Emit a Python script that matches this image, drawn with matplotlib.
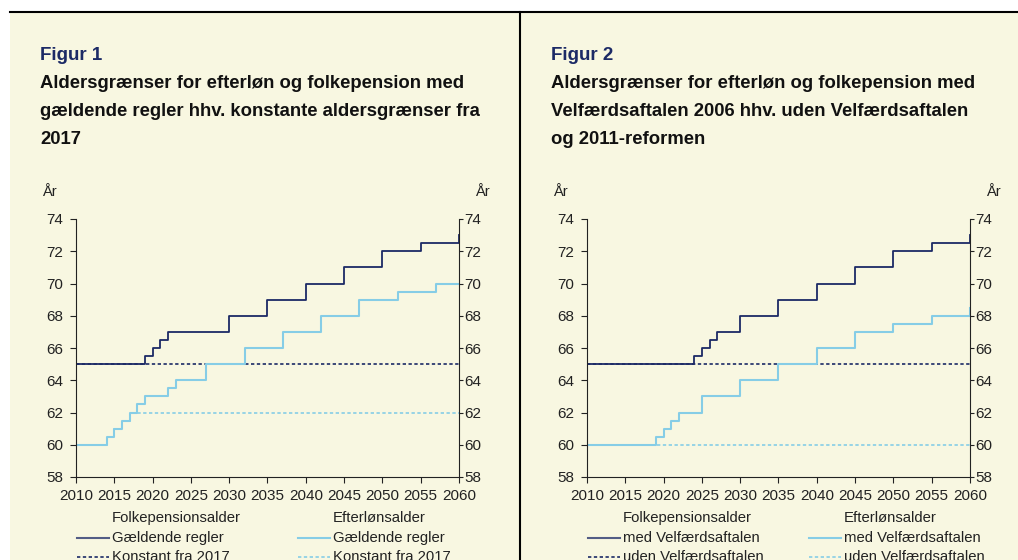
import matplotlib
matplotlib.use("Agg")
import matplotlib.pyplot as plt
from matplotlib.lines import Line2D
from matplotlib.patches import Rectangle

plt.rcParams['font.family'] = ['Liberation Sans', 'DejaVu Sans']

years = list(range(2010, 2061))

# Figur 1
folk_gaeldende = ([65] * 9 + [65.5, 66, 66.5] + [67] * 8 + [68] * 5 + [69] * 5
                  + [70] * 5 + [71] * 5 + [72] * 5 + [72.5] * 5 + [73])
folk_konstant = [65] * 51
efter_gaeldende = ([60] * 4 + [60.5, 61, 61.5, 62, 62.5] + [63] * 3 + [63.5]
                   + [64] * 4 + [65] * 5 + [66] * 5 + [67] * 5 + [68] * 5
                   + [69] * 5 + [69.5] * 5 + [70] * 4)
efter_konstant = [60] * 4 + [60.5, 61, 61.5, 62] + [62] * 43

# Figur 2
folk_med = ([65] * 14 + [65.5, 66, 66.5] + [67] * 3 + [68] * 5 + [69] * 5
            + [70] * 5 + [71] * 5 + [72] * 5 + [72.5] * 5 + [73])
folk_uden = [65] * 51
efter_med = ([60] * 9 + [60.5, 61, 61.5] + [62] * 3 + [63] * 5 + [64] * 5
             + [65] * 5 + [66] * 5 + [67] * 5 + [67.5] * 5 + [68] * 5 + [68.5])
efter_uden = [60] * 51

year_ticks = list(range(2010, 2061, 5))
age_ticks = list(range(58, 75, 2))

titles = [
    ["Aldersgrænser for efterløn og folkepension med",
     "gældende regler hhv. konstante aldersgrænser fra",
     "2017"],
    ["Aldersgrænser for efterløn og folkepension med",
     "Velfærdsaftalen 2006 hhv. uden Velfærdsaftalen",
     "og 2011-reformen"],
]
labels = [["Gældende regler", "Konstant fra 2017"],
          ["med Velfærdsaftalen", "uden Velfærdsaftalen"]]

dark = '#1c2a66'
light = '#86cde6'
bg = '#f8f7e1'
W, H = 1018, 560

fig = plt.figure(figsize=(W / 100, H / 100), dpi=100, facecolor='white')
fig.add_artist(Rectangle((10 / W, 0), 1, 1 - 13 / H, transform=fig.transFigure,
                         facecolor=bg, edgecolor='none', zorder=-10))
fig.add_artist(Line2D([10 / W, 1], [1 - 12 / H] * 2, transform=fig.transFigure,
                      color='black', lw=1.5))
fig.add_artist(Line2D([520 / W] * 2, [0, 1 - 12 / H], transform=fig.transFigure,
                      color='black', lw=1.5))


def fx(px):
    return px / W


def fy(py):
    return 1 - py / H


def panel(x0, num, title, lab, fs, fk, es, ek):
    ax = fig.add_axes([fx(x0 + 66), fy(477), fx(383), (477 - 219) / H])
    ax.set_facecolor('none')
    ax.plot(years, ek, color=light, lw=1.2, dashes=(2, 1.5), drawstyle='steps-post')
    ax.plot(years, fk, color=dark, lw=1.2, dashes=(2, 1.5), drawstyle='steps-post')
    ax.plot(years, es, color=light, lw=1.5, drawstyle='steps-post')
    ax.plot(years, fs, color=dark, lw=1.3, drawstyle='steps-post')
    ax.set_xlim(2010, 2060)
    ax.set_ylim(58, 74)
    ax.set_xticks(year_ticks)
    ax.set_yticks(age_ticks)
    for s in ['top', 'right']:
        ax.spines[s].set_visible(False)
    for s in ['left', 'bottom']:
        ax.spines[s].set_color('#222222')
    ax.tick_params(axis='both', labelsize=11, colors='#222222', length=4)
    ax.tick_params(axis='y', pad=5)
    ax.tick_params(axis='x', pad=5)
    ax2 = ax.twinx()
    ax2.set_ylim(58, 74)
    ax2.set_yticks(age_ticks)
    for s in ['top', 'left', 'bottom']:
        ax2.spines[s].set_visible(False)
    ax2.spines['right'].set_color('#222222')
    ax2.tick_params(axis='y', labelsize=11, colors='#222222', length=3, pad=1)

    fig.text(fx(x0 + 30), fy(55), "Figur %d" % num, fontsize=13.5, fontweight='bold',
             color='#1c2a66', va='center')
    for i, line in enumerate(title):
        fig.text(fx(x0 + 30), fy(84 + 28 * i), line, fontsize=13.3, fontweight='bold',
                 color='#111111', va='center')
    fig.text(fx(x0 + 32), fy(192), "År", fontsize=10.5, color='#222222', va='center')
    fig.text(fx(x0 + 465), fy(192), "År", fontsize=10.5, color='#222222', va='center')

    # legend
    for col, (cx, head, c) in enumerate([(x0 + 102, "Folkepensionsalder", dark),
                                         (x0 + 323, "Efterlønsalder", light)]):
        fig.text(fx(cx), fy(518), head, fontsize=10.7, color='#222222', va='center')
        fig.add_artist(Line2D([fx(cx - 35), fx(cx - 3)], [fy(538)] * 2,
                              transform=fig.transFigure, color=c, lw=1.5,
                              alpha=0.75 if c == dark else 1))
        fig.text(fx(cx), fy(538), lab[0], fontsize=10.7, color='#222222', va='center')
        fig.add_artist(Line2D([fx(cx - 35), fx(cx - 3)], [fy(557)] * 2,
                              transform=fig.transFigure, color=c, lw=1.2,
                              dashes=(2, 1.5)))
        fig.text(fx(cx), fy(557), lab[1], fontsize=10.7, color='#222222', va='center')


panel(10, 1, titles[0], labels[0], folk_gaeldende, folk_konstant,
      efter_gaeldende, efter_konstant)
panel(521, 2, titles[1], labels[1], folk_med, folk_uden, efter_med, efter_uden)

fig.savefig("out.png", dpi=100, facecolor=fig.get_facecolor())
